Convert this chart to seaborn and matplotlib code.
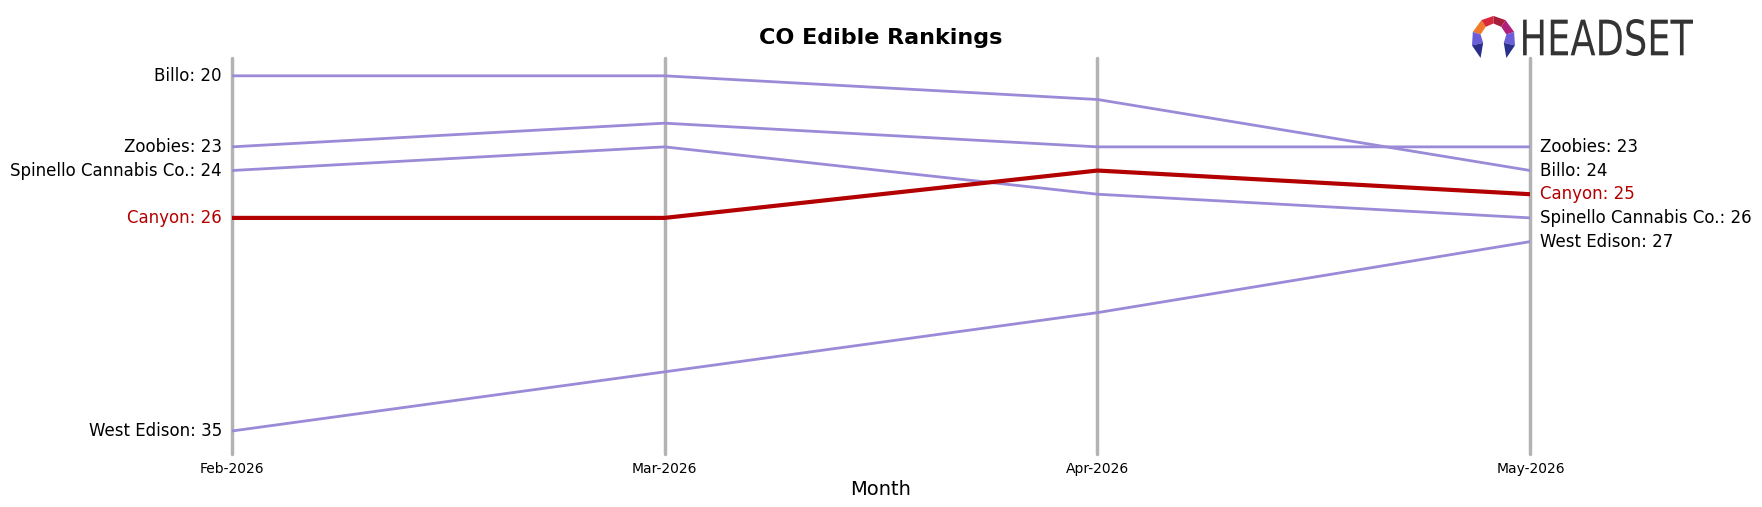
import numpy as np
import pandas as pd
import seaborn as sns
import matplotlib.pyplot as plt
from matplotlib.patches import Polygon, PathPatch
from matplotlib.textpath import TextPath
from matplotlib.font_manager import FontProperties
from matplotlib.transforms import Affine2D

months = ['Feb-2026', 'Mar-2026', 'Apr-2026', 'May-2026']
brands = ['Billo', 'Zoobies', 'Spinello Cannabis Co.', 'Canyon', 'West Edison']
billo = [20, 20, 21, 24]
zoobies = [23, 22, 23, 23]
spinello = [24, 23, 25, 26]
canyon = [26, 26, 24, 25]
west_edison = [35, np.nan, 30, 27]
highlight = 'Canyon'

ranks = dict(zip(brands, [billo, zoobies, spinello, canyon, west_edison]))
rows = []
for b in brands:
    for i, r in enumerate(ranks[b]):
        rows.append({'Brand': b, 'x': i, 'Rank': r})
df = pd.DataFrame(rows).dropna()

purple = '#9a8ad8'
red = '#b30000'
palette = {b: (red if b == highlight else purple) for b in brands}

sns.set_style('white')
plt.rcParams['text.color'] = 'black'
plt.rcParams['axes.labelcolor'] = 'black'
plt.rcParams['xtick.color'] = 'black'

fig = plt.figure(figsize=(17.62, 5.07), dpi=100)
ax = fig.add_axes([0.1314, 0.1045, 0.7372, 0.781])

for i in range(len(months)):
    ax.axvline(i, color='#b3b3b3', lw=2.5, zorder=0, clip_on=False)

others = df[df.Brand != highlight]
sns.lineplot(data=others, x='x', y='Rank', hue='Brand', palette=palette,
             lw=2, legend=False, ax=ax, estimator=None)
sns.lineplot(data=df[df.Brand == highlight], x='x', y='Rank', color=red,
             lw=3, legend=False, ax=ax, estimator=None)

ax.set_xlim(0, len(months) - 1)
ax.set_ylim(35.97, 19.25)
ax.set_xticks(range(len(months)))
ax.set_xticklabels(months, fontsize=10)
ax.tick_params(axis='x', length=4, width=1, color='black', pad=1.5)
ax.set_yticks([])
ax.set_xlabel('Month', fontsize=14, labelpad=3)
ax.set_ylabel('')
for s in ax.spines.values():
    s.set_visible(False)

last = len(months) - 1
for b in brands:
    vals = ranks[b]
    c = red if b == highlight else 'black'
    if not np.isnan(vals[0]):
        ax.annotate(f'{b}: {int(vals[0])}', (0, vals[0]), xytext=(-7, 0),
                    textcoords='offset points', ha='right', va='center',
                    fontsize=12, color=c)
    if not np.isnan(vals[last]):
        ax.annotate(f'{b}: {int(vals[last])}', (last, vals[last]), xytext=(7, 0),
                    textcoords='offset points', ha='left', va='center',
                    fontsize=12, color=c)

fig.text(0.5, 0.925, 'CO Edible Rankings', ha='center', va='center',
         fontsize=16, fontweight='bold', color='black')

# headset logo
lax = fig.add_axes([0.8354, 0.8856, 0.0244, 0.083])
lax.set_xlim(0, 1)
lax.set_ylim(0, 1)
lax.axis('off')
ring = [
    ([0.02, 0.62], [0.22, 0.9], [0.32, 0.74], [0.2, 0.56], '#f07a2a'),
    ([0.22, 0.9], [0.5, 1.0], [0.5, 0.82], [0.32, 0.74], '#d8283a'),
    ([0.5, 1.0], [0.78, 0.9], [0.68, 0.74], [0.5, 0.82], '#a81e3c'),
    ([0.78, 0.9], [0.98, 0.62], [0.8, 0.56], [0.68, 0.74], '#b0207a'),
    ([0.02, 0.62], [0.2, 0.56], [0.26, 0.36], [0.0, 0.3], '#6b5fd8'),
    ([0.0, 0.3], [0.26, 0.36], [0.2, 0.0], [0.2, 0.0], '#2a2f8c'),
    ([0.98, 0.62], [0.8, 0.56], [0.74, 0.36], [1.0, 0.3], '#6b5fd8'),
    ([1.0, 0.3], [0.74, 0.36], [0.8, 0.0], [0.8, 0.0], '#2a2f8c'),
]
for p in ring:
    lax.add_patch(Polygon(p[:4], closed=True, color=p[4], lw=0))

tax = fig.add_axes([0.8644, 0.8895, 0.0965, 0.073])
tax.axis('off')
tp = TextPath((0, 0), 'HEADSET', size=1, prop=FontProperties(family='DejaVu Sans'))
ext = tp.get_extents()
tr = Affine2D().translate(-ext.x0, -ext.y0).scale(1 / ext.width, 1 / ext.height)
tax.add_patch(PathPatch(tr.transform_path(tp), color='#333333', lw=0))
tax.set_xlim(0, 1)
tax.set_ylim(0, 1)

fig.savefig('out.png', dpi=100)
